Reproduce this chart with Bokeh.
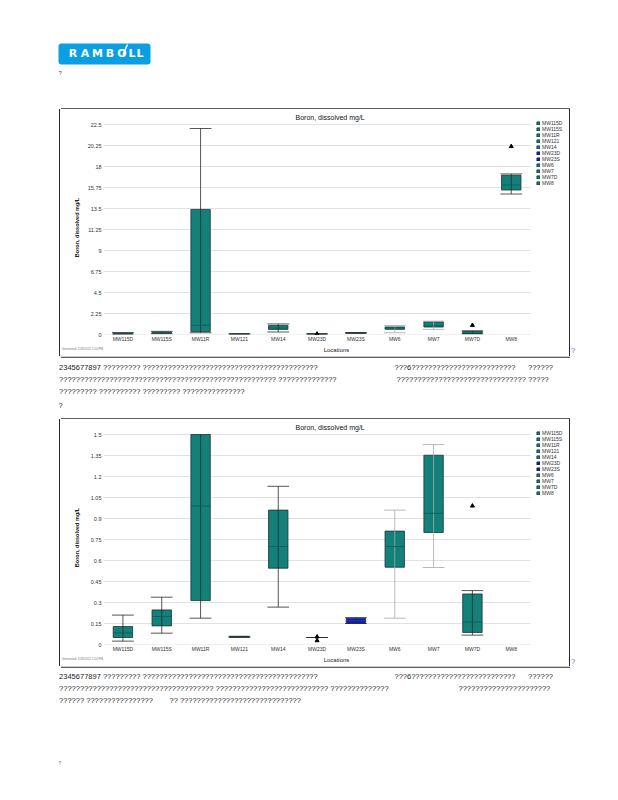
import numpy as np
from bokeh.plotting import figure
from bokeh.models import (ColumnDataSource, FactorRange, Range1d, FixedTicker,
                          NumeralTickFormatter, Div)
from bokeh.layouts import column, row
from bokeh.transform import dodge
from bokeh.core.properties import value
from bokeh.embed import file_html
from bokeh.resources import INLINE

FONT = "Liberation Sans"

# ---------------- data ----------------
locations = ["MW115D", "MW115S", "MW11R", "MW121", "MW14", "MW23D",
             "MW23S", "MW6", "MW7", "MW7D", "MW8"]
whisker_low = [0.024, 0.081, 0.188, 0.052, 0.267, 0.05, 0.15, 0.188, 0.55, 0.067, 15.05]
q1 = [0.05, 0.133, 0.314, 0.052, 0.545, 0.05, 0.15, 0.552, 0.80, 0.086, 15.48]
median = [0.083, 0.20, 0.99, 0.055, 0.70, 0.05, 0.17, 0.70, 0.937, 0.16, 16.02]
q3 = [0.128, 0.247, 13.4, 0.058, 0.96, 0.05, 0.188, 0.81, 1.352, 0.361, 17.06]
whisker_high = [0.21, 0.338, 22.07, 0.058, 1.13, 0.05, 0.192, 0.96, 1.428, 0.385, 17.2]
outlier_locations = ["MW23D", "MW23D", "MW7D", "MW8"]
outlier_values = [0.055, 0.028, 0.99, 20.15]

y_ticks_full = [0, 2.25, 4.5, 6.75, 9, 11.25, 13.5, 15.75, 18, 20.25, 22.5]
y_tick_labels_full = ["0", "2.25", "4.5", "6.75", "9", "11.25", "13.5",
                      "15.75", "18", "20.25", "22.5"]
y_ticks_zoom = [0, 0.15, 0.3, 0.45, 0.6, 0.75, 0.9, 1.05, 1.2, 1.35, 1.5]
y_tick_labels_zoom = ["0", "0.15", "0.3", "0.45", "0.6", "0.75", "0.9",
                      "1.05", "1.2", "1.35", "1.5"]

chart_title = "Boron, dissolved mg/L"
y_axis_title = "Boron, dissolved mg/L"
x_axis_title = "Locations"
footnote = "Generated: 11/8/2021 1:54 PM"

logo_letters = ["R", "A", "M", "B", "O", "L", "L"]

text_block_1 = [
    "2345677897 ????????? ??????????????????????????????????????????",
    "???6?????????????????????????",
    "??????",
    "????????????????????????????????????????????????????"
    " ??????????????",
    "??????????????????????????????? ?????",
    "????????? ?????????? ????????? ???????????????",
]
text_block_2 = [
    "2345677897 ????????? ??????????????????????????????????????????",
    "???6?????????????????????????",
    "??????",
    "????????????????????????????????????? ???????????????????????????"
    " ??????????????",
    "??????????????????????",
    "?????? ????????????????",
    "?? ?????????????????????????????",
]

# ---------------- styles / layout constants ----------------
TEAL = "#13807a"
BLUE = "#1414dc"
BOX_COLORS = {"MW23D": BLUE, "MW23S": BLUE}
WHISKER_COLORS = {"MW6": "#a8a8a8", "MW7": "#a8a8a8"}
EDGE = "#2a2a2a"
PAGE_W = 602
W_CHART, H_CHART = 508, 247
BL, BT, BB = 42, 11, 22
FRAME_H = H_CHART - BT - BB
TOP_PAD_PX = 4          # frame room above the top tick (for the legend)
LEFT_GAP = 53
LEGEND_SLOT = " "       # empty category slot at the right that holds the legend


def page_fig(h):
    f = figure(width=PAGE_W, height=h, x_range=Range1d(0, PAGE_W), y_range=Range1d(h, 0),
               output_backend="svg", toolbar_location=None,
               x_axis_location=None, y_axis_location=None, min_border=0)
    f.grid.visible = False
    f.outline_line_color = None
    return f


def body_text(f, xs, ys, texts):
    f.text(x=xs, y=ys, text=texts, text_font=value(FONT), text_font_size="7.5px",
           text_baseline="middle", text_align="left", text_color="#1a1a1a")


def box_chart(y_max, ticks, tick_labels, ylab_standoff):
    n = len(locations)
    colors = [BOX_COLORS.get(l, TEAL) for l in locations]
    wcolors = [WHISKER_COLORS.get(l, "#2b2b2b") for l in locations]
    y_end = y_max * FRAME_H / (FRAME_H - TOP_PAD_PX)
    vis = [i for i in range(n) if q1[i] <= y_max]        # boxes reaching into view
    box = ColumnDataSource(dict(
        loc=[locations[i] for i in vis], q1=[q1[i] for i in vis],
        q3=[min(q3[i], y_max) for i in vis], color=[colors[i] for i in vis],
        med=[median[i] for i in vis], lo=[whisker_low[i] for i in vis],
        hi=[min(whisker_high[i], y_max) for i in vis], wcolor=[wcolors[i] for i in vis]))
    caps_i = [i for i in vis if whisker_high[i] <= y_max]
    caps = ColumnDataSource(dict(loc=[locations[i] for i in caps_i],
                                 hi=[whisker_high[i] for i in caps_i],
                                 wcolor=[wcolors[i] for i in caps_i]))
    leg = ColumnDataSource(dict(loc=locations, color=colors,
                                nan=[np.nan] * n))   # legend-only renderer
    out_keep = [i for i in range(len(outlier_values)) if outlier_values[i] <= y_max]
    grid = ColumnDataSource(dict(y=ticks, a=[locations[0]] * len(ticks),
                                 b=[locations[-1]] * len(ticks)))

    p = figure(width=W_CHART, height=H_CHART,
               x_range=FactorRange(factors=locations + [LEGEND_SLOT], range_padding=0),
               y_range=Range1d(0, y_end), output_backend="svg", toolbar_location=None,
               min_border_left=BL, min_border_right=0, min_border_top=BT,
               min_border_bottom=BB, title=chart_title,
               border_fill_color=None, background_fill_color="white")
    p.outline_line_color = None
    p.title.text_font = FONT
    p.title.text_font_size = "7px"
    p.title.text_font_style = "normal"
    p.title.text_color = "#111111"
    p.title.align = "left"
    p.title.offset = 192
    p.title.standoff = 0

    p.grid.visible = False
    p.segment(x0=dodge("a", -0.5, range=p.x_range), y0="y",
              x1=dodge("b", 0.5, range=p.x_range), y1="y",
              line_color="#d9d9d9", line_width=0.8, source=grid)

    p.vbar(x="loc", width=0.5, bottom="q1", top="q3", fill_color="color",
           line_color="#1c3433", line_width=0.8, source=box)
    p.vbar(x="loc", width=0.5, bottom="nan", top="nan", fill_color="color",
           line_color="#1c3433", line_width=0.8, source=leg, legend_field="loc")
    p.segment(x0="loc", y0="lo", x1="loc", y1="hi", line_color="wcolor",
              line_width=0.8, source=box)
    p.segment(x0=dodge("loc", -0.25, range=p.x_range), y0="med",
              x1=dodge("loc", 0.25, range=p.x_range), y1="med",
              line_color="#0c5a55", line_width=0.8, source=box)
    p.segment(x0=dodge("loc", -0.28, range=p.x_range), y0="lo",
              x1=dodge("loc", 0.28, range=p.x_range), y1="lo",
              line_color="wcolor", line_width=0.8, source=box)
    p.segment(x0=dodge("loc", -0.28, range=p.x_range), y0="hi",
              x1=dodge("loc", 0.28, range=p.x_range), y1="hi",
              line_color="wcolor", line_width=0.8, source=caps)
    p.scatter(x=[outlier_locations[i] for i in out_keep],
              y=[outlier_values[i] for i in out_keep],
              marker="triangle", size=4, color="black")

    lg = p.legend[0]
    lg.location = (433, FRAME_H - 66)
    lg.label_text_font = FONT
    lg.label_text_font_size = "5px"
    lg.label_text_color = "#333333"
    lg.glyph_width = 4
    lg.glyph_height = 4
    lg.label_height = 6
    lg.label_width = 20
    lg.label_standoff = 2
    lg.spacing = 0
    lg.padding = 0
    lg.margin = 0
    lg.border_line_color = None
    lg.background_fill_alpha = 0

    for ax in (p.xaxis[0], p.yaxis[0]):
        ax.axis_line_color = None
        ax.major_tick_line_color = None
        ax.minor_tick_line_color = None
        ax.major_tick_out = 0
        ax.major_tick_in = 0
        ax.minor_tick_out = 0
        ax.major_label_text_font = FONT
        ax.major_label_text_color = "#333333"
        ax.axis_label_text_font = FONT
        ax.axis_label_text_color = "#222222"
    p.xaxis.major_label_text_font_size = "5px"
    p.xaxis.major_label_standoff = 1
    p.xaxis.axis_label = x_axis_title
    p.xaxis.axis_label_text_font_size = "6px"
    p.xaxis.axis_label_text_font_style = "normal"
    p.xaxis.axis_label_standoff = 2

    p.yaxis.ticker = FixedTicker(ticks=ticks)
    p.yaxis.formatter = NumeralTickFormatter(format="0.[00]")
    p.yaxis.major_label_overrides = dict(zip(ticks, tick_labels))
    p.yaxis.major_label_text_font_size = "5.5px"
    p.yaxis.major_label_standoff = 2
    p.yaxis.axis_label = y_axis_title
    p.yaxis.axis_label_text_font_size = "5.5px"
    p.yaxis.axis_label_text_font_style = "bold"
    p.yaxis.axis_label_standoff = ylab_standoff
    return p


def left_edge_div():
    html = ('<div style="position:relative;width:52px;height:%dpx;'
            'border-right:1.3px solid %s;">'
            '<span style="position:absolute;left:54px;top:%dpx;white-space:nowrap;'
            'font-family:\'Liberation Sans\';font-size:3px;line-height:3px;color:#777;">'
            '%s</span></div>') % (H_CHART, EDGE, H_CHART - 8, footnote)
    return Div(text=html, width=LEFT_GAP, height=H_CHART, margin=0)


def right_edge_div(top):
    html = ('<div style="height:%dpx;border-left:1.3px solid %s;">'
            '<div style="padding:%dpx 0 0 1px;font-family:\'Liberation Sans\';'
            'font-size:7.5px;line-height:8px;color:#5b74a8;">?</div></div>') % (
        H_CHART, EDGE, top)
    return Div(text=html, width=PAGE_W - LEFT_GAP - W_CHART, height=H_CHART, margin=0)


def hline(f, y):
    f.segment(x0=[LEFT_GAP - 0.6], y0=[y], x1=[LEFT_GAP + W_CHART + 0.6], y1=[y],
              line_color=EDGE, line_width=1.3)


# header with logo
header = page_fig(101)
header.quad(left=[50], right=[142], top=[35], bottom=[56], fill_color="#0a9fe2",
            line_color=None, border_radius=3)
header.text(x=[64.5, 76.5, 89, 101.5, 113.5, 123.5, 131.5], y=[44.5] * 7,
            text=logo_letters, text_font=value("DejaVu Sans"), text_font_size="11px",
            text_font_style="bold", text_color="white", text_align="center",
            text_baseline="middle")
header.segment(x0=[114.5], y0=[46], x1=[119], y1=[36], line_color="white", line_width=1.5)
header.text(x=[50], y=[64], text=["?"], text_font=value(FONT), text_font_size="6px",
            text_baseline="middle", text_color="#3b5b8c")
hline(header, 100.35)

chart1 = box_chart(22.5, y_ticks_full, y_tick_labels_full, 5)
chart2 = box_chart(1.5, y_ticks_zoom, y_tick_labels_zoom, 8)

mid = page_fig(63)
body_text(mid, [50.6, 386, 519.5, 50.6, 388, 50.6], [11, 11, 11, 23, 23, 35], text_block_1)
mid.text(x=[50], y=[49], text=["?"], text_font=value(FONT), text_font_size="7.5px",
         text_baseline="middle", text_color="#1a1a1a")
hline(mid, 0.65)
hline(mid, 62.35)

footer = page_fig(126)
body_text(footer, [50.6, 386, 519.5, 50.6, 450, 50.6, 161], [10, 10, 10, 22, 22, 34, 34],
          text_block_2)
footer.text(x=[50], y=[96], text=["?"], text_font=value(FONT), text_font_size="5px",
            text_baseline="middle", text_color="#8a6a40")
hline(footer, 0.65)

inner = column(
    header,
    row(left_edge_div(), chart1, right_edge_div(238)),
    mid,
    row(left_edge_div(), chart2, right_edge_div(239)),
    footer,
)
page = column(Div(text="", width=PAGE_W + 8, height=8, margin=0),
              row(Div(text="", width=8, height=784, margin=0), inner))

open("out.html", "w").write(file_html(page, INLINE))
